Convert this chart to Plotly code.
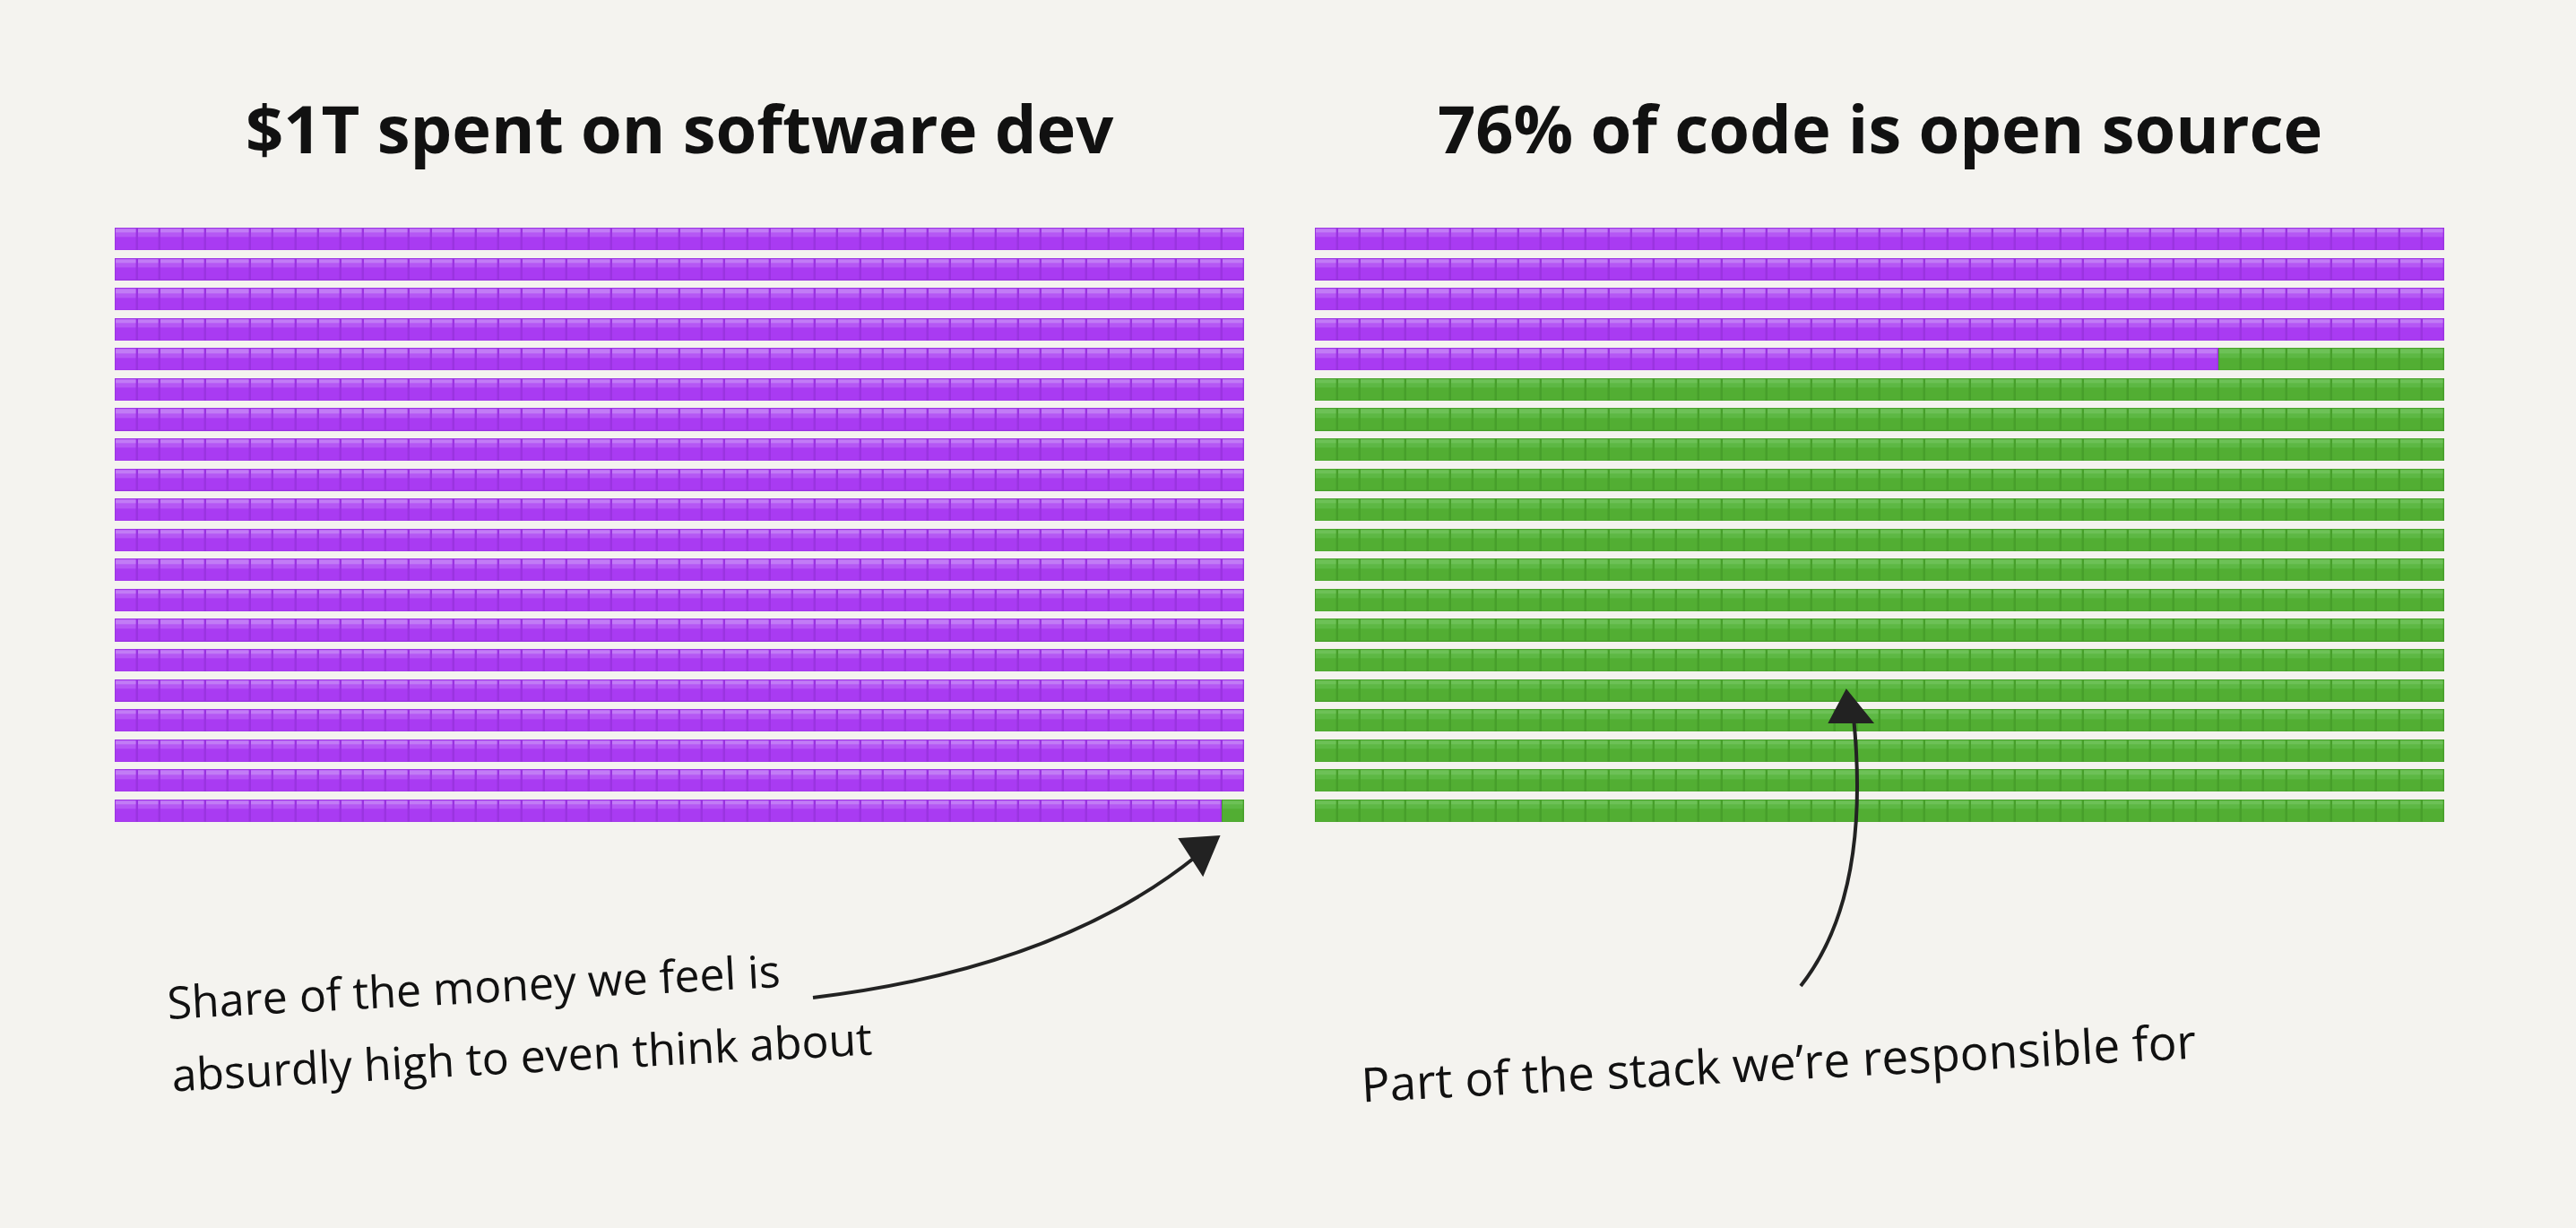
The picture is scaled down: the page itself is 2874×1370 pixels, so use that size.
from plotly.subplots import make_subplots
import plotly.graph_objects as go
import numpy as np

# data: every block = $1B / 0.1% of the stack
titles = ["$1T spent on software dev", "76% of code is open source"]
total_blocks = [1000, 1000]
green_blocks = [1, 760]   # blocks at the end of the grid drawn in green
n_cols = 50
notes_left = ["Share of the money we feel is", "absurdly high to even think about"]
note_right = "Part of the stack we’re responsible for"

W, H = 2874, 1370
bg = "#f4f3ef"
block_h = 0.75  # share of a row the block covers, rest is gap

# colours: (purple, green) per layer
edge_cols = ["#9a34e0", "#479f2b"]
main_cols = ["#a93bf2", "#52ae33"]
mid_cols = ["#b557f4", "#5db844"]
light_cols = ["#c27cf6", "#6dc157"]


def px(x, y):
    return x / W, 1 - y / H


def grid(total, green):
    n_rows = total // n_cols
    k = np.arange(total).reshape(n_rows, n_cols)
    return (k >= total - green).astype(float)


def layer(cells, top, bottom, cols, xgap, sub):
    n_rows = cells.shape[0]
    edges, rows = [], []
    for r in range(n_rows):
        edges += [r + top, r + bottom]
        rows.append(cells[r])
        if r < n_rows - 1:
            rows.append(np.full(n_cols, np.nan))
    return go.Heatmap(z=np.array(rows), x=np.arange(n_cols + 1), y=edges,
                      colorscale=[[0, cols[0]], [1, cols[1]]], zmin=0, zmax=1,
                      showscale=False, xgap=xgap, hoverinfo="skip",
                      xaxis="x" + sub, yaxis="y" + sub)


fig = make_subplots(rows=1, cols=2)
doms = [(128, 1388), (1467, 2727)]
for i in range(2):
    cells = grid(total_blocks[i], green_blocks[i])
    sub = "" if i == 0 else "2"
    fig.add_trace(layer(cells, 0, block_h, edge_cols, 0, sub))
    fig.add_trace(layer(cells, 0.02, block_h - 0.02, main_cols, 2.5, sub))
    fig.add_trace(layer(cells, 0.04, 0.32, mid_cols, 2.5, sub))
    fig.add_trace(layer(cells, 0.04, 0.17, light_cols, 2.5, sub))
    n_rows = cells.shape[0]
    x0, x1 = doms[i]
    fig.update_xaxes(domain=[x0 / W, x1 / W], range=[0, n_cols], visible=False,
                     row=1, col=i + 1)
    fig.update_yaxes(domain=[1 - 917 / H, 1 - 254 / H],
                     range=[n_rows - 1 + block_h, 0], visible=False,
                     row=1, col=i + 1)
    fig.add_annotation(text="<b>" + titles[i] + "</b>", xref="paper", yref="paper",
                       x=(x0 + x1) / 2 / W, y=1 - 142 / H, xanchor="center",
                       yanchor="middle", showarrow=False,
                       font=dict(family="Open Sans", size=74, color="#111111"))

# handwritten notes
for txt, (x, y) in zip(notes_left, [(183, 1100), (188, 1178)]):
    fig.add_annotation(text=txt, xref="paper", yref="paper", x=x / W, y=1 - y / H,
                       xanchor="left", yanchor="middle", showarrow=False,
                       textangle=-3,
                       font=dict(family="Open Sans", size=50, color="#111111"))
fig.add_annotation(text=note_right, xref="paper", yref="paper", x=1515 / W, y=1 - 1184 / H,
                   xanchor="left", yanchor="middle", showarrow=False, textangle=-3,
                   font=dict(family="Open Sans", size=53, color="#111111"))

# arrows (curve + head)
def path(pts, close=False):
    s = ""
    for cmd, x, y in pts:
        X, Y = px(x, y)
        s += f"{cmd} {X:.5f},{Y:.5f} "
    return s + ("Z" if close else "")

arrow = dict(color="#222222", width=4)
fig.add_shape(type="path", xref="paper", yref="paper", line=arrow,
              path=path([("M", 907, 1113), ("Q", 1180, 1080), ("", 1335, 955)]))
fig.add_shape(type="path", xref="paper", yref="paper", line=dict(color="#222222", width=2),
              fillcolor="#222222",
              path=path([("M", 1316, 936), ("L", 1360, 933), ("L", 1342, 976)], True))
fig.add_shape(type="path", xref="paper", yref="paper", line=arrow,
              path=path([("M", 2009, 1100), ("Q", 2088, 1000), ("", 2068, 800)]))
fig.add_shape(type="path", xref="paper", yref="paper", line=dict(color="#222222", width=2),
              fillcolor="#222222",
              path=path([("M", 2041, 806), ("L", 2060, 770), ("L", 2089, 806)], True))

fig.update_layout(width=W, height=H, margin=dict(l=0, r=0, t=0, b=0),
                  paper_bgcolor=bg, plot_bgcolor=bg, showlegend=False)
fig.write_html("out.html", config={"displayModeBar": False},
               post_script="document.body.style.margin='0';")
